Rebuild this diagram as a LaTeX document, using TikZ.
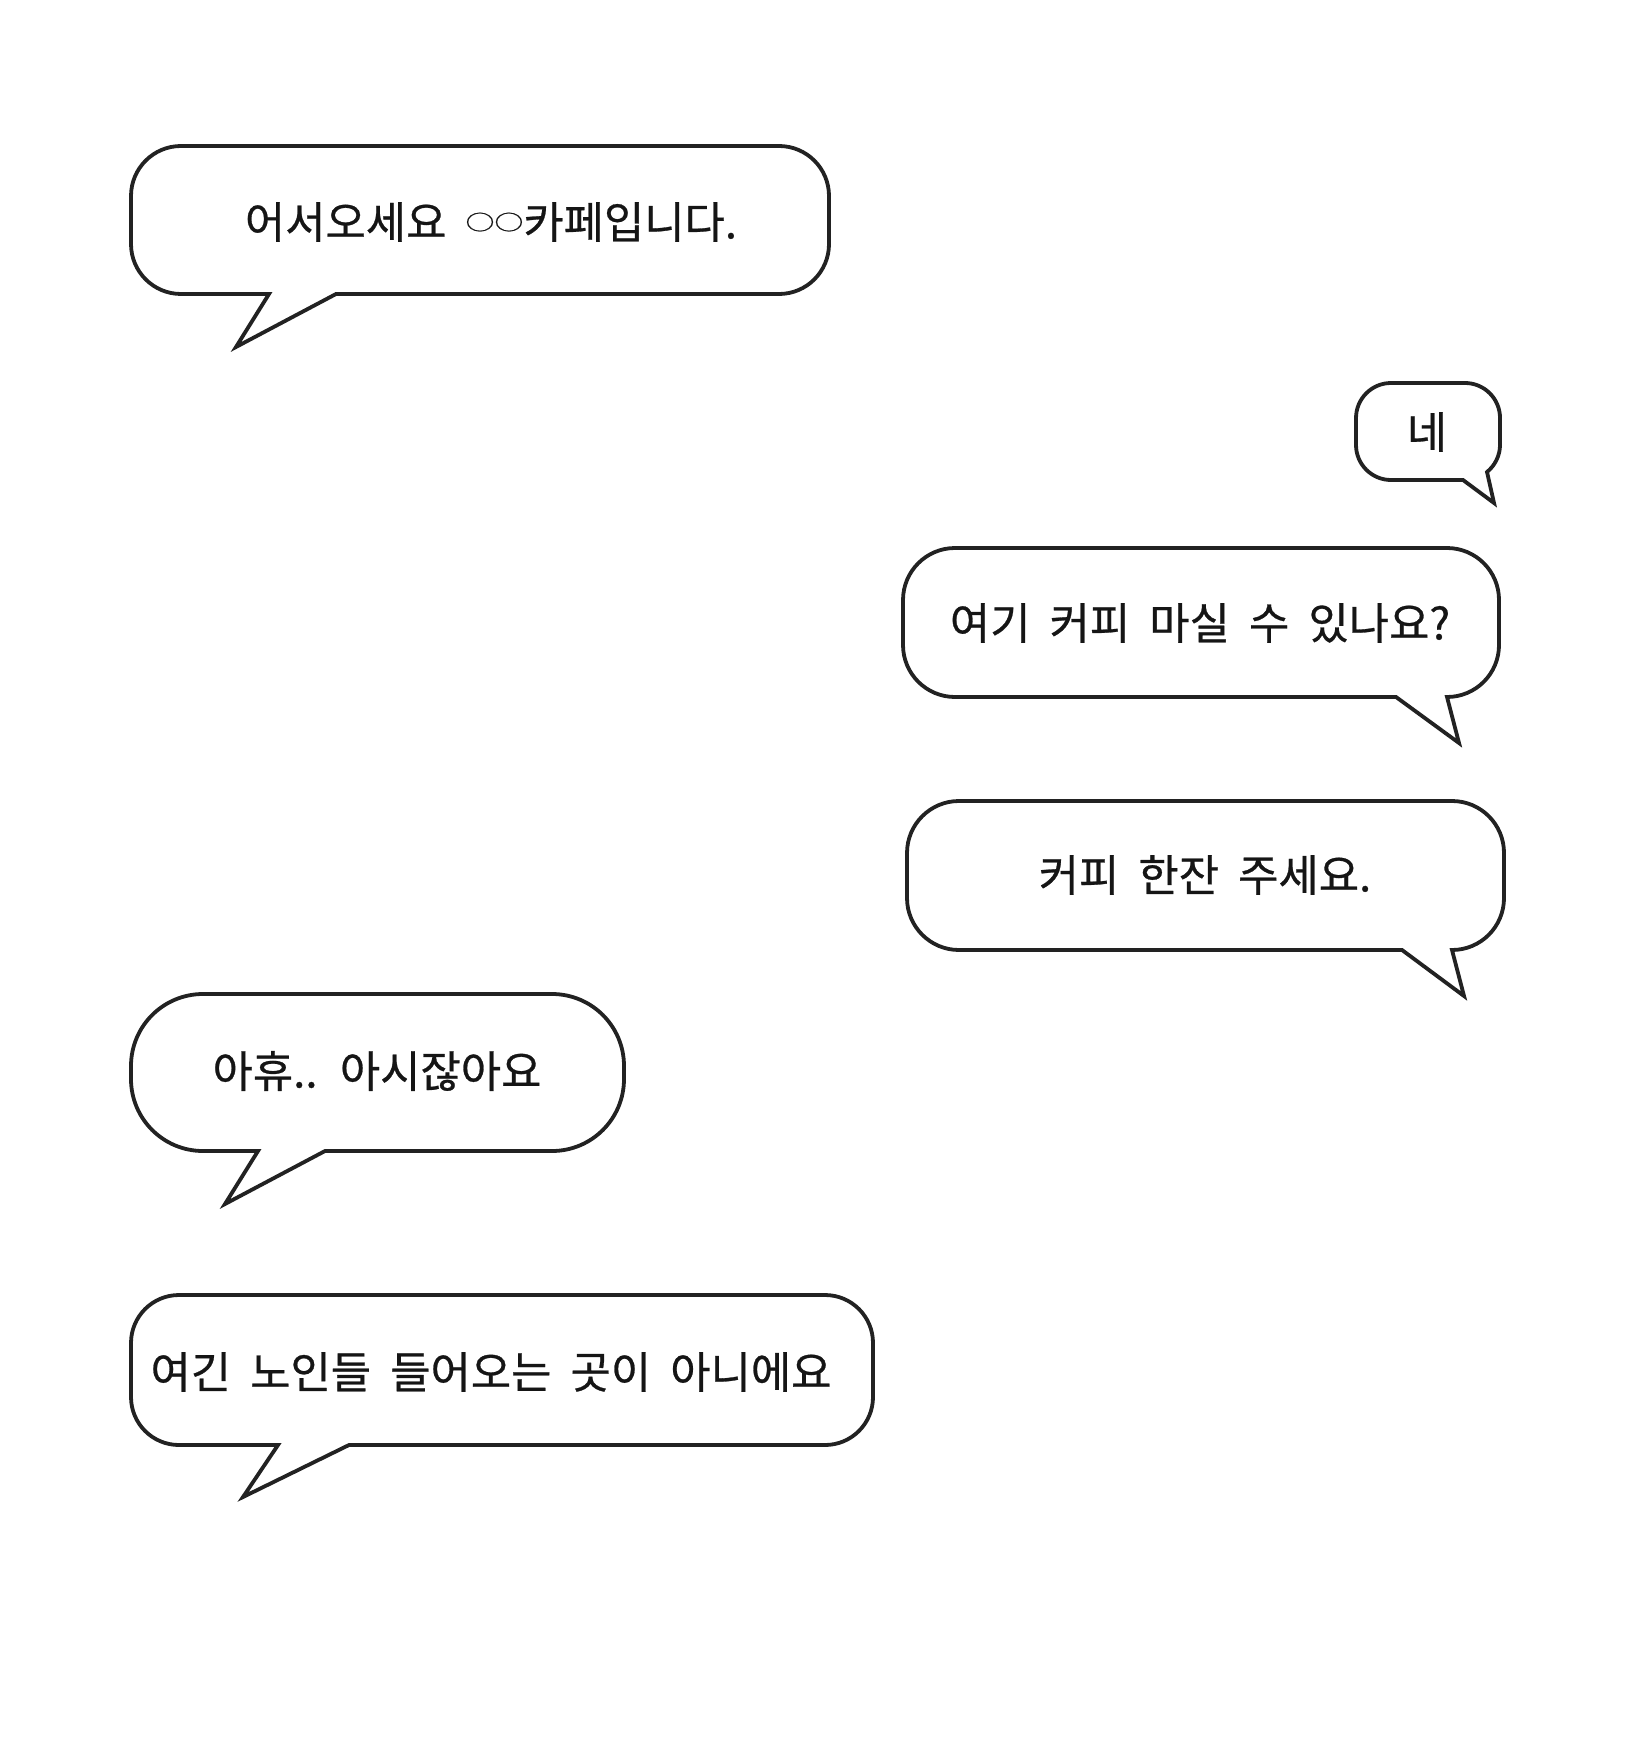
\documentclass[tikz,border=0pt]{standalone}
\usepackage{graphicx}
\usepackage{fontspec}
\setmainfont{Noto Sans CJK KR}[WordSpace=1.95, FakeBold=0.6]
\definecolor{ink}{HTML}{222222}
\definecolor{txt}{HTML}{151515}
\newcommand{\flatcirc}{\raisebox{0.19em}{\scalebox{0.66}[0.48]{○}}}
\tikzset{
  bub/.style={draw=ink, line width=1.9pt, fill=white, line join=miter},
  say/.style={text=txt, font=\fontsize{21.9pt}{26pt}\selectfont, inner sep=0pt, anchor=center}
}
% left-tail bubble: l rr t b R tb1 tipx tipy tb2
\newcommand{\bubL}[9]{%
\draw[bub] (#9,#4) -- ({#2-#5},#4) .. controls ({#2-0.4477*#5},#4) and (#2,{#4-0.4477*#5}) .. (#2,{#4-#5})
 -- (#2,{#3+#5}) .. controls (#2,{#3+0.4477*#5}) and ({#2-0.4477*#5},#3) .. ({#2-#5},#3)
 -- ({#1+#5},#3) .. controls ({#1+0.4477*#5},#3) and (#1,{#3+0.4477*#5}) .. (#1,{#3+#5})
 -- (#1,{#4-#5}) .. controls (#1,{#4-0.4477*#5}) and ({#1+0.4477*#5},#4) .. ({#1+#5},#4)
 -- (#6,#4) -- (#7,#8) -- cycle;}
% right-tail bubble: l rr t b R tb1 tipx tipy
\newcommand{\bubR}[8]{%
\draw[bub] ({#2-#5},#4) .. controls ({#2-0.4477*#5},#4) and (#2,{#4-0.4477*#5}) .. (#2,{#4-#5})
 -- (#2,{#3+#5}) .. controls (#2,{#3+0.4477*#5}) and ({#2-0.4477*#5},#3) .. ({#2-#5},#3)
 -- ({#1+#5},#3) .. controls ({#1+0.4477*#5},#3) and (#1,{#3+0.4477*#5}) .. (#1,{#3+#5})
 -- (#1,{#4-#5}) .. controls (#1,{#4-0.4477*#5}) and ({#1+0.4477*#5},#4) .. ({#1+#5},#4)
 -- (#6,#4) -- (#7,#8) -- cycle;}
\begin{document}
\begin{tikzpicture}[x=0.5pt,y=-0.5pt]
\useasboundingbox[fill=white] (0,0) rectangle (1632,1738);

% bubble 1
\bubL{131}{829}{146}{294}{50}{269}{236}{347}{336}
\node[say] (t1) at (491,222) {어서오세요 {\flatcirc}{\flatcirc}카페입니다.};

% bubble 2 (네)
\draw[bub] (1487,472) .. controls (1494.8,465.7) and (1500,455.6) .. (1500,445)
 -- (1500,418) .. controls (1500,398.7) and (1484.3,383) .. (1465,383)
 -- (1391,383) .. controls (1371.7,383) and (1356,398.7) .. (1356,418)
 -- (1356,445) .. controls (1356,464.3) and (1371.7,480) .. (1391,480)
 -- (1463,480) -- (1494,503) -- cycle;
\node[say] (t2) at (1427,432) {네};

% bubble 3
\bubR{903}{1499}{548}{697}{52}{1396}{1459}{743}
\node[say] (t3) at (1200,623) {여기 커피 마실 수 있나요?};

% bubble 4
\bubR{907}{1504}{801}{950}{52}{1402}{1464}{996}
\node[say] (t4) at (1205,875) {커피 한잔 주세요.};

% bubble 5
\bubL{131}{624}{994}{1151}{72}{258}{225}{1204}{325}
\node[say] (t5) at (377,1071) {아휴.. 아시잖아요};

% bubble 6
\bubL{131}{873}{1295}{1445}{48}{278}{243}{1497}{349}
\node[say] (t6) at (491,1372) {여긴 노인들 들어오는 곳이 아니에요};
\end{tikzpicture}
\end{document}
